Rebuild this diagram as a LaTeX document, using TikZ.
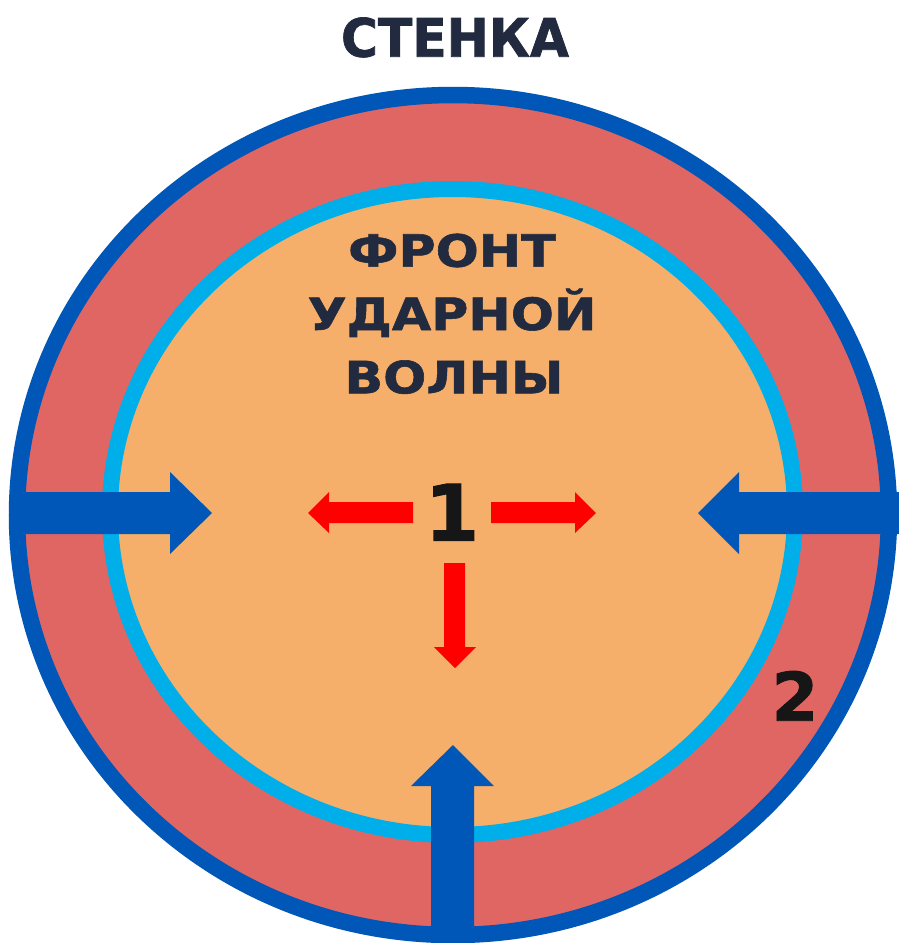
\documentclass[tikz,border=0pt]{standalone}
\usepackage{fontspec}
\setmainfont{DejaVu Sans}
\newfontfamily\titlefont[FakeStretch=0.95,FakeBold=1.3]{DejaVu Sans}
\newfontfamily\lblfont[FakeStretch=1.14,FakeBold=1.3]{DejaVu Sans}
\newfontfamily\numfont[FakeBold=1.3]{DejaVu Sans}
\definecolor{wallred}{HTML}{E06664}
\definecolor{gasorange}{HTML}{F5AF6A}
\definecolor{frontblue}{HTML}{00AEEA}
\definecolor{darkblue}{HTML}{0057B8}
\definecolor{txtdark}{HTML}{222A3F}
\definecolor{numdark}{HTML}{161616}
\definecolor{arrred}{HTML}{FF0000}
\begin{document}
\begin{tikzpicture}[x=1pt,y=-1pt,
  bigarrow/.style={fill=darkblue,draw=none},
  smallarrow/.style={fill=arrred,draw=none},
  title/.style={text=txtdark,font=\titlefont\bfseries\fontsize{53}{60}\selectfont,anchor=base,inner sep=0pt},
  frontlbl/.style={text=txtdark,font=\lblfont\bfseries\fontsize{44.5}{50}\selectfont,anchor=base,inner sep=0pt},
  numlbl/.style={text=numdark,anchor=base,inner sep=0pt}]
\useasboundingbox (0,0) rectangle (899,943);
\fill[white] (0,0) rectangle (899,943);
% wall (outer ring)
\path[fill=wallred,draw=darkblue,line width=16.5pt] (453,515) ellipse [x radius=436pt, y radius=420pt];
% gas region + shock front
\path[fill=gasorange,draw=frontblue,line width=16pt] (452.5,512) ellipse [x radius=342.5pt, y radius=323pt];
% big blue arrows
\path[bigarrow] (12,492) -- (170,492) -- (170,472) -- (212,513) -- (170,554) -- (170,534) -- (12,534) -- cycle;
\path[bigarrow] (899,492) -- (739,492) -- (739,472) -- (698,513) -- (739,554) -- (739,534) -- (899,534) -- cycle;
\path[bigarrow] (431,943) -- (431,786) -- (411,786) -- (453,745) -- (494,786) -- (474,786) -- (474,943) -- cycle;
% red arrows
\path[smallarrow] (413,502) -- (329,502) -- (329,492) -- (308,513) -- (329,533) -- (329,523) -- (413,523) -- cycle;
\path[smallarrow] (491,502) -- (575,502) -- (575,492) -- (596,513) -- (575,533) -- (575,523) -- (491,523) -- cycle;
\path[smallarrow] (444,563) -- (465,563) -- (465,647) -- (476,647) -- (455,668) -- (434,647) -- (444,647) -- cycle;
% labels
\node[title] (wall) at (455,56.7) {СТЕНКА};
\node[frontlbl] (f1) at (452,266.7) {ФРОНТ};
\node[frontlbl] (f2) at (452,330) {УДАРНОЙ};
\node[frontlbl] (f3) at (454,393.3) {ВОЛНЫ};
\node[numlbl,font=\numfont\bfseries\fontsize{78}{80}\selectfont] (n1) at (452,540.7) {1};
\node[numlbl,font=\numfont\bfseries\fontsize{67}{70}\selectfont] (n2) at (795,720.7) {2};
\end{tikzpicture}
\end{document}
